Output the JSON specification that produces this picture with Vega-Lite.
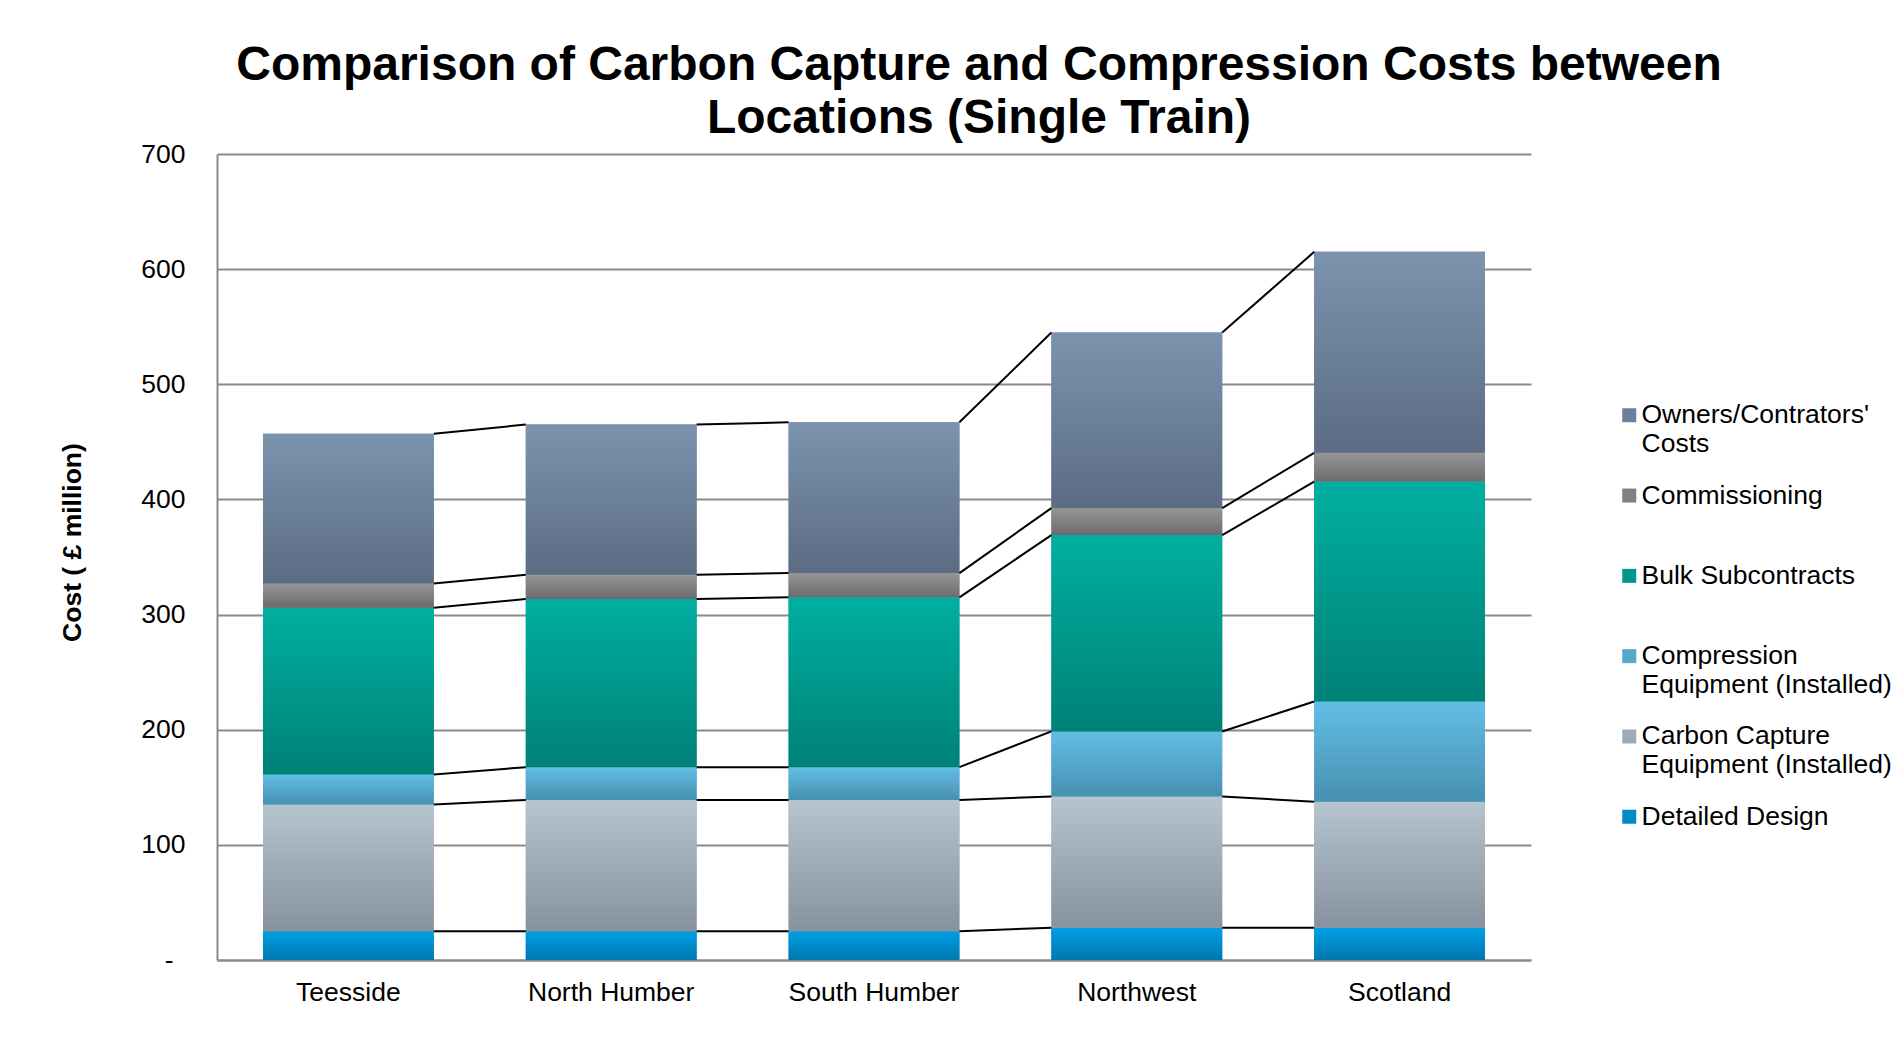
{
  "$schema": "https://vega.github.io/schema/vega-lite/v6.json",
  "width": 1314,
  "height": 806,
  "autosize": {"type": "none"},
  "padding": {"left": 217, "top": 154, "right": 367, "bottom": 83},
  "background": "white",
  "title": {
    "text": ["Comparison of Carbon Capture and Compression Costs between", "Locations (Single Train)"],
    "font": "Liberation Sans",
    "fontSize": 48,
    "fontWeight": "bold",
    "color": "black",
    "anchor": "middle",
    "frame": "group",
    "dx": 105,
    "offset": -2,
    "lineHeight": 53
  },
  "data": {
    "values": [
      {"location": "Teesside", "li": 1, "series": "Detailed Design", "si": 1, "value": 25},
      {"location": "Teesside", "li": 1, "series": "Carbon Capture Equipment (Installed)", "si": 2, "value": 110},
      {"location": "Teesside", "li": 1, "series": "Compression Equipment (Installed)", "si": 3, "value": 26},
      {"location": "Teesside", "li": 1, "series": "Bulk Subcontracts", "si": 4, "value": 145},
      {"location": "Teesside", "li": 1, "series": "Commissioning", "si": 5, "value": 21},
      {"location": "Teesside", "li": 1, "series": "Owners/Contrators' Costs", "si": 6, "value": 130},
      {"location": "North Humber", "li": 2, "series": "Detailed Design", "si": 1, "value": 25},
      {"location": "North Humber", "li": 2, "series": "Carbon Capture Equipment (Installed)", "si": 2, "value": 114},
      {"location": "North Humber", "li": 2, "series": "Compression Equipment (Installed)", "si": 3, "value": 28.5},
      {"location": "North Humber", "li": 2, "series": "Bulk Subcontracts", "si": 4, "value": 146},
      {"location": "North Humber", "li": 2, "series": "Commissioning", "si": 5, "value": 21},
      {"location": "North Humber", "li": 2, "series": "Owners/Contrators' Costs", "si": 6, "value": 130.5},
      {"location": "South Humber", "li": 3, "series": "Detailed Design", "si": 1, "value": 25},
      {"location": "South Humber", "li": 3, "series": "Carbon Capture Equipment (Installed)", "si": 2, "value": 114},
      {"location": "South Humber", "li": 3, "series": "Compression Equipment (Installed)", "si": 3, "value": 28.5},
      {"location": "South Humber", "li": 3, "series": "Bulk Subcontracts", "si": 4, "value": 147.5},
      {"location": "South Humber", "li": 3, "series": "Commissioning", "si": 5, "value": 21},
      {"location": "South Humber", "li": 3, "series": "Owners/Contrators' Costs", "si": 6, "value": 131},
      {"location": "Northwest", "li": 4, "series": "Detailed Design", "si": 1, "value": 28},
      {"location": "Northwest", "li": 4, "series": "Carbon Capture Equipment (Installed)", "si": 2, "value": 114},
      {"location": "Northwest", "li": 4, "series": "Compression Equipment (Installed)", "si": 3, "value": 56.5},
      {"location": "Northwest", "li": 4, "series": "Bulk Subcontracts", "si": 4, "value": 170.5},
      {"location": "Northwest", "li": 4, "series": "Commissioning", "si": 5, "value": 23.5},
      {"location": "Northwest", "li": 4, "series": "Owners/Contrators' Costs", "si": 6, "value": 152.5},
      {"location": "Scotland", "li": 5, "series": "Detailed Design", "si": 1, "value": 28},
      {"location": "Scotland", "li": 5, "series": "Carbon Capture Equipment (Installed)", "si": 2, "value": 109.5},
      {"location": "Scotland", "li": 5, "series": "Compression Equipment (Installed)", "si": 3, "value": 87},
      {"location": "Scotland", "li": 5, "series": "Bulk Subcontracts", "si": 4, "value": 191},
      {"location": "Scotland", "li": 5, "series": "Commissioning", "si": 5, "value": 25},
      {"location": "Scotland", "li": 5, "series": "Owners/Contrators' Costs", "si": 6, "value": 174.5}
    ]
  },
  "transform": [
    {"stack": "value", "groupby": ["location"], "sort": [{"field": "si", "order": "ascending"}], "as": ["y0", "y1"]}
  ],
  "encoding": {
    "x": {
      "field": "location",
      "type": "nominal",
      "scale": {
        "domain": ["Teesside", "North Humber", "South Humber", "Northwest", "Scotland"],
        "paddingInner": 0.35,
        "paddingOuter": 0.175
      },
      "axis": {
        "title": null,
        "labelAngle": 0,
        "labelFont": "Liberation Sans",
        "labelFontSize": 26.5,
        "labelColor": "black",
        "labelPadding": 19,
        "ticks": false,
        "domain": true,
        "domainColor": "#8a8a8a",
        "domainWidth": 2,
        "grid": false
      }
    },
    "y": {
      "field": "y1",
      "type": "quantitative",
      "scale": {"domain": [0, 700], "nice": false},
      "axis": {
        "title": "Cost ( £ million)",
        "titleFont": "Liberation Sans",
        "titleFontSize": 26.5,
        "titleFontWeight": "bold",
        "titleColor": "black",
        "titleX": -145,
        "titleY": 388,
        "titleAlign": "center",
        "titleBaseline": "middle",
        "titleAngle": -90,
        "values": [0, 100, 200, 300, 400, 500, 600, 700],
        "labelExpr": "datum.value == 0 ? '-' : datum.label",
        "labelFont": "Liberation Sans",
        "labelFontSize": 26.5,
        "labelColor": "black",
        "labelPadding": {"condition": {"test": "datum.value == 0", "value": 44}, "value": 32},
        "ticks": false,
        "domain": true,
        "domainColor": "#8a8a8a",
        "domainWidth": 2,
        "grid": true,
        "gridColor": "#8a8a8a",
        "gridWidth": 2
      }
    },
    "y2": {"field": "y0"}
  },
  "layer": [
    {
      "mark": {"type": "bar"},
      "encoding": {
        "color": {
          "field": "series",
          "type": "nominal",
          "scale": {
            "domain": ["Owners/Contrators' Costs", "Commissioning", "Bulk Subcontracts", "Compression Equipment (Installed)", "Carbon Capture Equipment (Installed)", "Detailed Design"],
            "range": ["#6c8099", "#818183", "#00988c", "#55a7cb", "#9eabb7", "#008bc9"]
          },
          "legend": {
            "orient": "none",
            "legendX": 1399,
            "legendY": 248,
            "title": null,
            "padding": 0,
            "symbolType": "square",
            "symbolSize": 196,
            "symbolStrokeWidth": 0,
            "labelFont": "Liberation Sans",
            "labelFontSize": 26.5,
            "labelColor": "black",
            "labelOffset": -1,
            "labelLimit": 400,
            "rowPadding": 24.3,
            "labelExpr": "split(indexof(replace(replace(datum.label, \"' \", \"'|\"), ' Equipment', '|Equipment'), '|') < 0 ? datum.label + '|' : replace(replace(datum.label, \"' \", \"'|\"), ' Equipment', '|Equipment'), '|')"
          }
        }
      }
    },
    {
      "transform": [{"filter": "datum.si === 1"}],
      "mark": {"type": "bar", "fill": {"gradient": "linear", "x1": 0, "y1": 0, "x2": 0, "y2": 1, "stops": [{"offset": 0, "color": "#00a0e3"}, {"offset": 1, "color": "#0077af"}]}}
    },
    {
      "transform": [{"filter": "datum.si === 2"}],
      "mark": {"type": "bar", "fill": {"gradient": "linear", "x1": 0, "y1": 0, "x2": 0, "y2": 1, "stops": [{"offset": 0, "color": "#b6c4d0"}, {"offset": 1, "color": "#86939e"}]}}
    },
    {
      "transform": [{"filter": "datum.si === 3"}],
      "mark": {"type": "bar", "fill": {"gradient": "linear", "x1": 0, "y1": 0, "x2": 0, "y2": 1, "stops": [{"offset": 0, "color": "#62bee6"}, {"offset": 1, "color": "#4790b0"}]}}
    },
    {
      "transform": [{"filter": "datum.si === 4"}],
      "mark": {"type": "bar", "fill": {"gradient": "linear", "x1": 0, "y1": 0, "x2": 0, "y2": 1, "stops": [{"offset": 0, "color": "#00afa1"}, {"offset": 1, "color": "#008177"}]}}
    },
    {
      "transform": [{"filter": "datum.si === 5"}],
      "mark": {"type": "bar", "fill": {"gradient": "linear", "x1": 0, "y1": 0, "x2": 0, "y2": 1, "stops": [{"offset": 0, "color": "#969698"}, {"offset": 1, "color": "#6b6b6e"}]}}
    },
    {
      "transform": [{"filter": "datum.si === 6"}],
      "mark": {"type": "bar", "fill": {"gradient": "linear", "x1": 0, "y1": 0, "x2": 0, "y2": 1, "stops": [{"offset": 0, "color": "#7c93ae"}, {"offset": 1, "color": "#5b6c83"}]}}
    },
    {
      "transform": [
        {
          "window": [
            {"op": "lead", "field": "y1", "as": "ny1"},
            {"op": "lead", "field": "location", "as": "nloc"}
          ],
          "groupby": ["series"],
          "sort": [{"field": "li", "order": "ascending"}]
        },
        {"filter": "datum.nloc != null"}
      ],
      "mark": {"type": "rule", "color": "black", "strokeWidth": 2},
      "encoding": {
        "x": {"field": "location", "type": "nominal", "bandPosition": 1},
        "x2": {"field": "nloc", "bandPosition": 0},
        "y": {"field": "y1", "type": "quantitative"},
        "y2": {"field": "ny1"}
      }
    }
  ],
  "config": {
    "view": {"stroke": null},
    "font": "Liberation Sans"
  }
}
